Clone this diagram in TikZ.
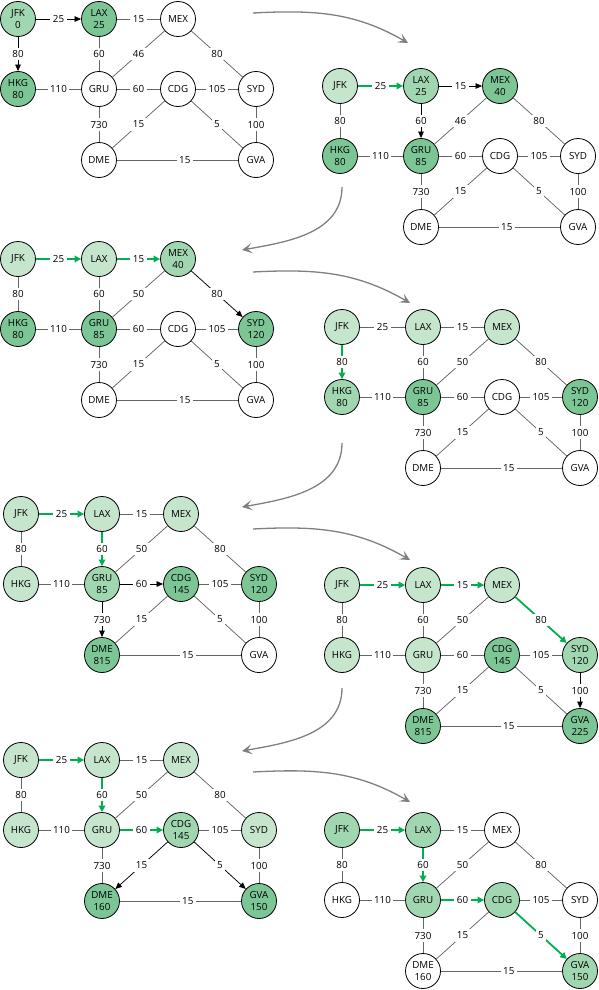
\documentclass[tikz,border=0pt]{standalone}
\usepackage{fontspec}
\setmainfont{Open Sans}
\usetikzlibrary{arrows.meta}

\definecolor{donegreen}{HTML}{C5E5CD}
\definecolor{curgreen}{HTML}{A0D6B0}
\definecolor{neargreen}{HTML}{7CC696}
\definecolor{pathgreen}{HTML}{00B050}

\tikzset{
  city/.style={circle,draw,line width=0.8pt,minimum size=35pt,inner sep=0pt,
    align=center,fill=white,font=\fontsize{9.8}{11.2}\selectfont},
  done/.style={city,fill=donegreen},
  cur/.style={city,fill=curgreen},
  near/.style={city,fill=neargreen},
  road/.style={draw=black!60,line width=0.75pt},
  hop/.style={draw=black,line width=0.75pt,-{Triangle[length=6.5pt,width=5.5pt]}},
  best/.style={draw=pathgreen,line width=1.8pt,-{Triangle[length=6.5pt,width=6.5pt]}},
  lbl/.style={fill=white,inner sep=2.5pt,font=\fontsize{9.8}{11}\selectfont},
  stagearrow/.style={draw=black!50,line width=1.3pt,-{Stealth[length=10pt,width=10pt,inset=4.5pt]}}
}

\begin{document}
\begin{tikzpicture}[x=1pt,y=1pt]
\useasboundingbox (0,0) rectangle (599,-990);

% step 1
\begin{scope}[shift={(18,-19)},name prefix=a-]
\node[cur] (JFK) at (0,0) {JFK\\0};
\node[near] (LAX) at (81,0) {LAX\\25};
\node[city] (MEX) at (160,0) {MEX};
\node[near] (HKG) at (0,-70) {HKG\\80};
\node[city] (GRU) at (81,-70) {GRU};
\node[city] (CDG) at (160,-70) {CDG};
\node[city] (SYD) at (238,-70) {SYD};
\node[city] (DME) at (81,-141) {DME};
\node[city] (GVA) at (238,-141) {GVA};
\foreach \a/\b/\w/\s in {JFK/LAX/25/hop, LAX/MEX/15/road, JFK/HKG/80/hop,
    LAX/GRU/60/road, MEX/GRU/46/road, MEX/SYD/80/road, HKG/GRU/110/road,
    GRU/CDG/60/road, CDG/SYD/105/road, GRU/DME/730/road, CDG/DME/15/road,
    CDG/GVA/5/road, SYD/GVA/100/road}
  \draw[\s] (\a) -- node[lbl]{\w} (\b);
\draw[road] (DME) -- node[lbl,pos=.56]{15} (GVA);
\end{scope}

% step 2
\begin{scope}[shift={(340,-86)},name prefix=b-]
\node[done] (JFK) at (0,0) {JFK};
\node[cur] (LAX) at (81,0) {LAX\\25};
\node[near] (MEX) at (160,0) {MEX\\40};
\node[near] (HKG) at (0,-70) {HKG\\80};
\node[near] (GRU) at (81,-70) {GRU\\85};
\node[city] (CDG) at (160,-70) {CDG};
\node[city] (SYD) at (238,-70) {SYD};
\node[city] (DME) at (81,-141) {DME};
\node[city] (GVA) at (238,-141) {GVA};
\foreach \a/\b/\w/\s in {JFK/LAX/25/best, LAX/MEX/15/hop, JFK/HKG/80/road,
    LAX/GRU/60/hop, MEX/GRU/46/road, MEX/SYD/80/road, HKG/GRU/110/road,
    GRU/CDG/60/road, CDG/SYD/105/road, GRU/DME/730/road, CDG/DME/15/road,
    CDG/GVA/5/road, SYD/GVA/100/road}
  \draw[\s] (\a) -- node[lbl]{\w} (\b);
\draw[road] (DME) -- node[lbl,pos=.56]{15} (GVA);
\end{scope}

% step 3
\begin{scope}[shift={(18,-259)},name prefix=c-]
\node[done] (JFK) at (0,0) {JFK};
\node[done] (LAX) at (81,0) {LAX};
\node[cur] (MEX) at (160,0) {MEX\\40};
\node[near] (HKG) at (0,-70) {HKG\\80};
\node[near] (GRU) at (81,-70) {GRU\\85};
\node[city] (CDG) at (160,-70) {CDG};
\node[near] (SYD) at (238,-70) {SYD\\120};
\node[city] (DME) at (81,-141) {DME};
\node[city] (GVA) at (238,-141) {GVA};
\foreach \a/\b/\w/\s in {JFK/LAX/25/best, LAX/MEX/15/best, JFK/HKG/80/road,
    LAX/GRU/60/road, MEX/GRU/50/road, MEX/SYD/80/hop, HKG/GRU/110/road,
    GRU/CDG/60/road, CDG/SYD/105/road, GRU/DME/730/road, CDG/DME/15/road,
    CDG/GVA/5/road, SYD/GVA/100/road}
  \draw[\s] (\a) -- node[lbl]{\w} (\b);
\draw[road] (DME) -- node[lbl,pos=.56]{15} (GVA);
\end{scope}

% step 4
\begin{scope}[shift={(342,-327)},name prefix=d-]
\node[done] (JFK) at (0,0) {JFK};
\node[done] (LAX) at (81,0) {LAX};
\node[done] (MEX) at (160,0) {MEX};
\node[cur] (HKG) at (0,-70) {HKG\\80};
\node[near] (GRU) at (81,-70) {GRU\\85};
\node[city] (CDG) at (160,-70) {CDG};
\node[near] (SYD) at (238,-70) {SYD\\120};
\node[city] (DME) at (81,-141) {DME};
\node[city] (GVA) at (238,-141) {GVA};
\foreach \a/\b/\w/\s in {JFK/LAX/25/road, LAX/MEX/15/road, JFK/HKG/80/best,
    LAX/GRU/60/road, MEX/GRU/50/road, MEX/SYD/80/road, HKG/GRU/110/road,
    GRU/CDG/60/road, CDG/SYD/105/road, GRU/DME/730/road, CDG/DME/15/road,
    CDG/GVA/5/road, SYD/GVA/100/road}
  \draw[\s] (\a) -- node[lbl]{\w} (\b);
\draw[road] (DME) -- node[lbl,pos=.56]{15} (GVA);
\end{scope}

% step 5
\begin{scope}[shift={(21,-514)},name prefix=e-]
\node[done] (JFK) at (0,0) {JFK};
\node[done] (LAX) at (81,0) {LAX};
\node[done] (MEX) at (160,0) {MEX};
\node[done] (HKG) at (0,-70) {HKG};
\node[cur] (GRU) at (81,-70) {GRU\\85};
\node[near] (CDG) at (160,-70) {CDG\\145};
\node[near] (SYD) at (238,-70) {SYD\\120};
\node[near] (DME) at (81,-141) {DME\\815};
\node[city] (GVA) at (238,-141) {GVA};
\foreach \a/\b/\w/\s in {JFK/LAX/25/best, LAX/MEX/15/road, JFK/HKG/80/road,
    LAX/GRU/60/best, MEX/GRU/50/road, MEX/SYD/80/road, HKG/GRU/110/road,
    GRU/CDG/60/hop, CDG/SYD/105/road, GRU/DME/730/hop, CDG/DME/15/road,
    CDG/GVA/5/road, SYD/GVA/100/road}
  \draw[\s] (\a) -- node[lbl]{\w} (\b);
\draw[road] (DME) -- node[lbl,pos=.56]{15} (GVA);
\end{scope}

% step 6
\begin{scope}[shift={(342,-585)},name prefix=f-]
\node[done] (JFK) at (0,0) {JFK};
\node[done] (LAX) at (81,0) {LAX};
\node[done] (MEX) at (160,0) {MEX};
\node[done] (HKG) at (0,-70) {HKG};
\node[done] (GRU) at (81,-70) {GRU};
\node[near] (CDG) at (160,-70) {CDG\\145};
\node[cur] (SYD) at (238,-70) {SYD\\120};
\node[near] (DME) at (81,-141) {DME\\815};
\node[near] (GVA) at (238,-141) {GVA\\225};
\foreach \a/\b/\w/\s in {JFK/LAX/25/best, LAX/MEX/15/best, JFK/HKG/80/road,
    LAX/GRU/60/road, MEX/GRU/50/road, MEX/SYD/80/best, HKG/GRU/110/road,
    GRU/CDG/60/road, CDG/SYD/105/road, GRU/DME/730/road, CDG/DME/15/road,
    CDG/GVA/5/road, SYD/GVA/100/hop}
  \draw[\s] (\a) -- node[lbl]{\w} (\b);
\draw[road] (DME) -- node[lbl,pos=.56]{15} (GVA);
\end{scope}

% step 7
\begin{scope}[shift={(21,-760)},name prefix=g-]
\node[done] (JFK) at (0,0) {JFK};
\node[done] (LAX) at (81,0) {LAX};
\node[done] (MEX) at (160,0) {MEX};
\node[done] (HKG) at (0,-70) {HKG};
\node[done] (GRU) at (81,-70) {GRU};
\node[cur] (CDG) at (160,-70) {CDG\\145};
\node[done] (SYD) at (238,-70) {SYD};
\node[near] (DME) at (81,-141) {DME\\160};
\node[near] (GVA) at (238,-141) {GVA\\150};
\foreach \a/\b/\w/\s in {JFK/LAX/25/best, LAX/MEX/15/road, JFK/HKG/80/road,
    LAX/GRU/60/best, MEX/GRU/50/road, MEX/SYD/80/road, HKG/GRU/110/road,
    GRU/CDG/60/best, CDG/SYD/105/road, GRU/DME/730/road, CDG/DME/15/hop,
    CDG/GVA/5/hop, SYD/GVA/100/road}
  \draw[\s] (\a) -- node[lbl]{\w} (\b);
\draw[road] (DME) -- node[lbl,pos=.56]{15} (GVA);
\end{scope}

% step 8
\begin{scope}[shift={(342,-830)},name prefix=h-]
\node[cur] (JFK) at (0,0) {JFK};
\node[cur] (LAX) at (81,0) {LAX};
\node[city] (MEX) at (160,0) {MEX};
\node[city] (HKG) at (0,-70) {HKG};
\node[cur] (GRU) at (81,-70) {GRU};
\node[cur] (CDG) at (160,-70) {CDG};
\node[city] (SYD) at (238,-70) {SYD};
\node[city] (DME) at (81,-141) {DME\\160};
\node[cur] (GVA) at (238,-141) {GVA\\150};
\foreach \a/\b/\w/\s in {JFK/LAX/25/best, LAX/MEX/15/road, JFK/HKG/80/road,
    LAX/GRU/60/best, MEX/GRU/50/road, MEX/SYD/80/road, HKG/GRU/110/road,
    GRU/CDG/60/best, CDG/SYD/105/road, GRU/DME/730/road, CDG/DME/15/road,
    CDG/GVA/5/best, SYD/GVA/100/road}
  \draw[\s] (\a) -- node[lbl]{\w} (\b);
\draw[road] (DME) -- node[lbl,pos=.56]{15} (GVA);
\end{scope}

% arrows between the steps
\coordinate (s1) at (253,-13);  \coordinate (t1) at (408,-43);
\coordinate (s2) at (342,-187); \coordinate (t2) at (242,-250);
\coordinate (s3) at (253,-272); \coordinate (t3) at (410,-303);
\coordinate (s4) at (342,-443); \coordinate (t4) at (242,-507);
\coordinate (s5) at (253,-529); \coordinate (t5) at (410,-560);
\coordinate (s6) at (342,-688); \coordinate (t6) at (242,-751);
\coordinate (s7) at (253,-772); \coordinate (t7) at (410,-802);
\draw[stagearrow] (s1) to[out=3,in=150] (t1);
\draw[stagearrow] (s2) to[out=-90,in=10] (t2);
\draw[stagearrow] (s3) to[out=3,in=150] (t3);
\draw[stagearrow] (s4) to[out=-90,in=10] (t4);
\draw[stagearrow] (s5) to[out=3,in=150] (t5);
\draw[stagearrow] (s6) to[out=-90,in=10] (t6);
\draw[stagearrow] (s7) to[out=3,in=150] (t7);

\end{tikzpicture}
\end{document}
